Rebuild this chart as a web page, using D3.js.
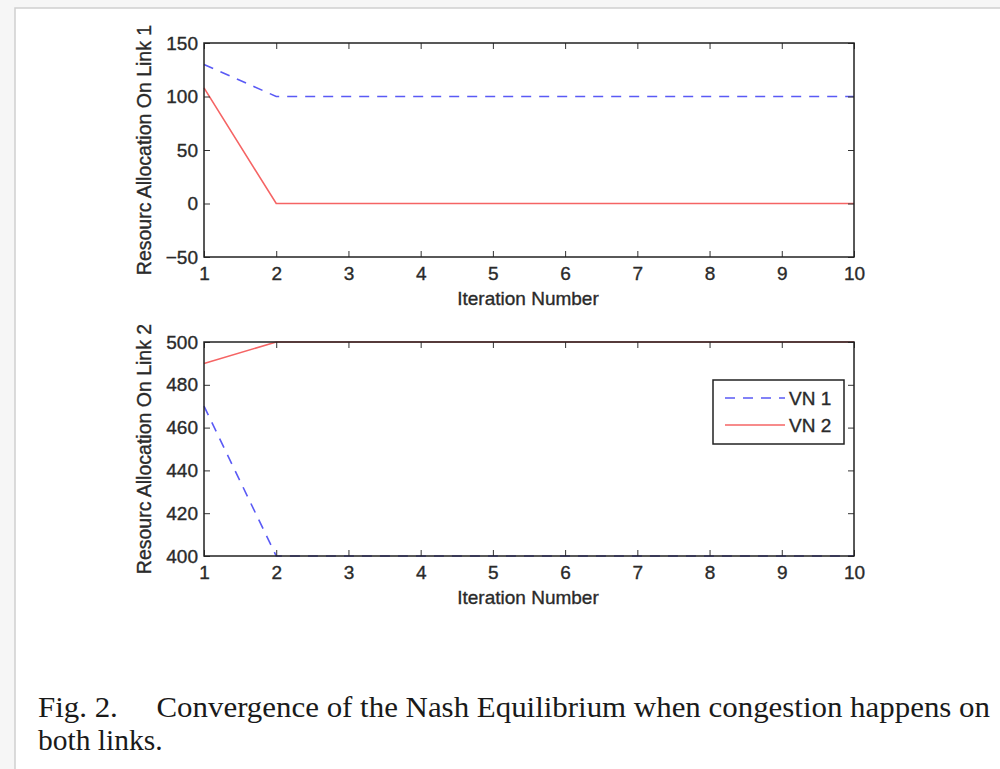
<!DOCTYPE html>
<html>
<head>
<meta charset="UTF-8">
<title>Convergence of the Nash Equilibrium</title>
<script src="https://d3js.org/d3.v7.min.js"></script>
<style>
    html, body { margin: 0; padding: 0; background: #f6f6f6; }
    svg { display: block; }
    .tick text, .lbl, .ylbl {
        font-family: "Liberation Sans", Arial, sans-serif;
        font-size: 19px;
        fill: #2a2a2a;
        stroke: #2a2a2a;
        stroke-width: 0.35px;
    }
    .ylbl { font-size: 19.5px; }
    .caption { font-family: "Liberation Serif", "Times New Roman", serif; font-size: 29.5px; fill: #1a1a1a; }
</style>
</head>
<body>
<svg id="fig" width="1000" height="769"></svg>
<script>
const iterations = [1, 2, 3, 4, 5, 6, 7, 8, 9, 10];
const seriesNames = ["VN 1", "VN 2"];

// link 1
const link1VN1 = [130, 100, 100, 100, 100, 100, 100, 100, 100, 100];
const link1VN2 = [108, 0, 0, 0, 0, 0, 0, 0, 0, 0];
const link1Ticks = [-50, 0, 50, 100, 150];

// link 2
const link2VN1 = [470, 400, 400, 400, 400, 400, 400, 400, 400, 400];
const link2VN2 = [490, 500, 500, 500, 500, 500, 500, 500, 500, 500];
const link2Ticks = [400, 420, 440, 460, 480, 500];

const captionLines = [
    "Fig. 2.\u2003 Convergence of the Nash Equilibrium when congestion happens on",
    "both links."
];

const colors = { "VN 1": "#5a5af5", "VN 2": "#f56464" };
const dashes = { "VN 1": "10,8", "VN 2": null };

const svg = d3.select("#fig");

// page frame
svg.append("rect")
    .attr("x", 15).attr("y", 8)
    .attr("width", 1000).attr("height", 800)
    .attr("fill", "#fff")
    .attr("stroke", "#cfcfcf")
    .attr("stroke-width", 1.5);

const left = 204, right = 854;
const x = d3.scaleLinear().domain([1, 10]).range([left, right]);

function drawPanel(top, bottom, ticks, vn1, vn2, yTitle, withLegend) {
    const y = d3.scaleLinear().domain(d3.extent(ticks)).range([bottom, top]);
    const g = svg.append("g");

    // series
    const line = d3.line().x((d, i) => x(iterations[i])).y(d => y(d));
    [[seriesNames[0], vn1], [seriesNames[1], vn2]].forEach(([name, vals]) => {
        g.append("path")
            .datum(vals)
            .attr("fill", "none")
            .attr("stroke", colors[name])
            .attr("stroke-width", 1.6)
            .attr("stroke-dasharray", dashes[name])
            .attr("d", line);
    });

    // box axes, matlab style: ticks inward on all sides
    const tk = 6;
    g.append("g")
        .attr("transform", `translate(0,${bottom})`)
        .call(d3.axisBottom(x).tickValues(iterations).tickSize(-tk).tickPadding(10).tickFormat(d3.format("d")));
    g.append("g")
        .attr("transform", `translate(0,${top})`)
        .call(d3.axisTop(x).tickValues(iterations).tickSize(-tk).tickFormat(""));
    g.append("g")
        .attr("transform", `translate(${left},0)`)
        .call(d3.axisLeft(y).tickValues(ticks).tickSize(-tk).tickPadding(6)
            .tickFormat(d => d < 0 ? "\u2212" + Math.abs(d) : d));
    g.append("g")
        .attr("transform", `translate(${right},0)`)
        .call(d3.axisRight(y).tickValues(ticks).tickSize(-tk).tickFormat(""));

    g.selectAll(".domain").remove();
    g.selectAll(".tick line").attr("stroke", "#333").attr("stroke-width", 1);
    g.append("rect")
        .attr("x", left).attr("y", top)
        .attr("width", right - left).attr("height", bottom - top)
        .attr("fill", "none")
        .attr("stroke", "#222")
        .attr("stroke-width", 1.5);

    g.append("text")
        .attr("class", "lbl")
        .attr("x", (left + right) / 2 - 1)
        .attr("y", bottom + 48)
        .attr("text-anchor", "middle")
        .text("Iteration Number");

    g.append("text")
        .attr("class", "ylbl")
        .attr("transform", `translate(151,${(top + bottom) / 2}) rotate(-90)`)
        .attr("text-anchor", "middle")
        .text(yTitle);

    if (withLegend) {
        const lg = g.append("g").attr("transform", "translate(713,380)");
        lg.append("rect")
            .attr("width", 131).attr("height", 64)
            .attr("fill", "#fff")
            .attr("stroke", "#222")
            .attr("stroke-width", 1.5);
        seriesNames.forEach((name, i) => {
            const yy = 18 + i * 27;
            lg.append("line")
                .attr("x1", 12).attr("x2", 72)
                .attr("y1", yy).attr("y2", yy)
                .attr("stroke", colors[name])
                .attr("stroke-width", 1.6)
                .attr("stroke-dasharray", dashes[name]);
            lg.append("text")
                .attr("class", "lbl")
                .attr("x", 76).attr("y", yy + 7)
                .text(name);
        });
    }
}

drawPanel(43, 257, link1Ticks, link1VN1, link1VN2, "Resourc Allocation On Link 1", false);
drawPanel(342, 556, link2Ticks, link2VN1, link2VN2, "Resourc Allocation On Link 2", true);

svg.selectAll(".caption-line")
    .data(captionLines)
    .enter()
    .append("text")
    .attr("class", "caption")
    .attr("x", 38)
    .attr("y", (d, i) => 717 + i * 33)
    .attr("xml:space", "preserve")
    .attr("textLength", (d, i) => i === 0 ? 952 : null)
    .attr("lengthAdjust", "spacingAndGlyphs")
    .text(d => d);
</script>
</body>
</html>
